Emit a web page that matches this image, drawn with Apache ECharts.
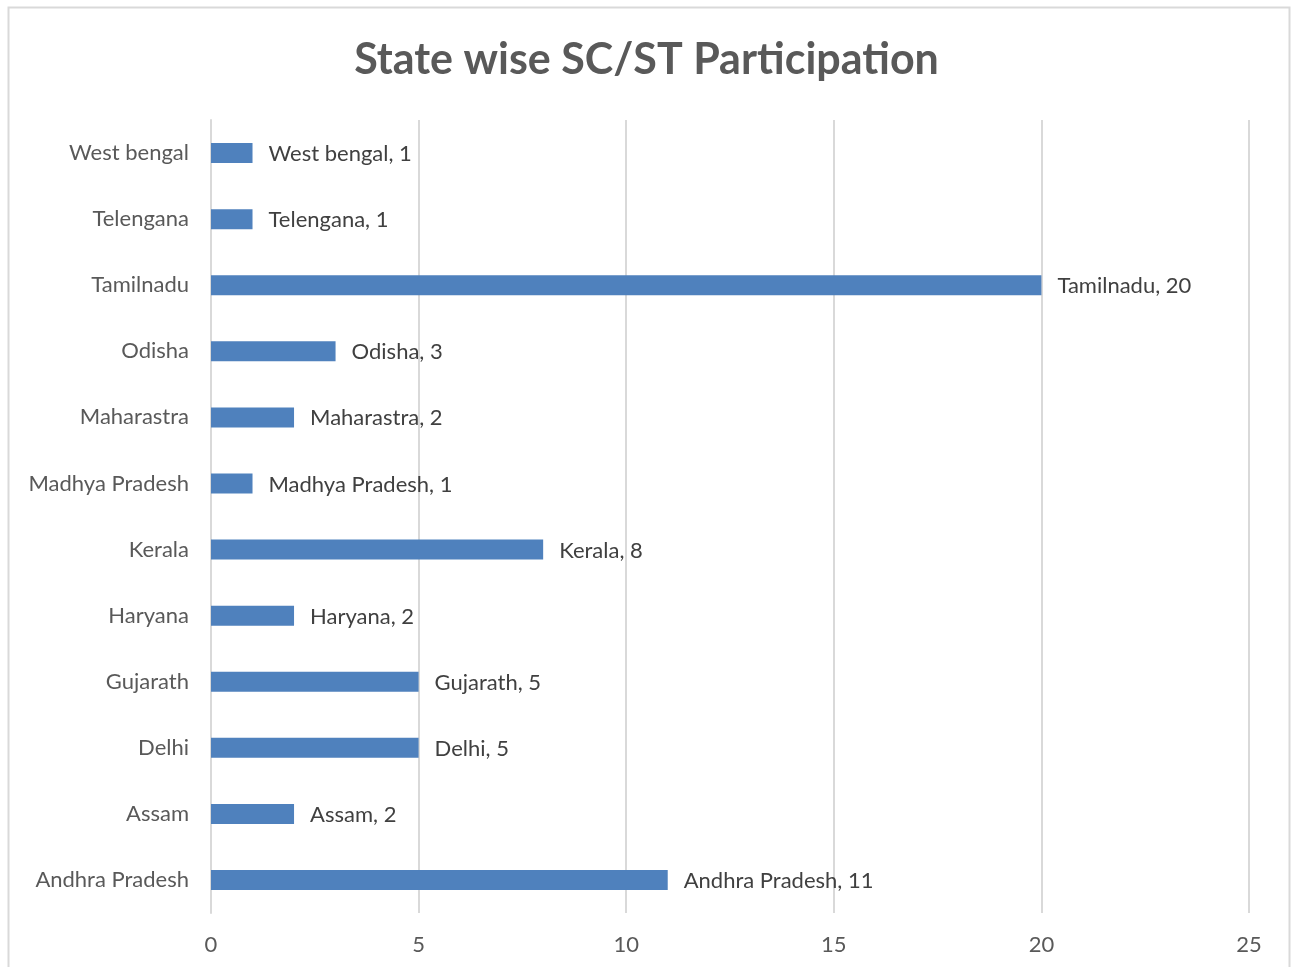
<!DOCTYPE html>
<html>
<head>
<meta charset="utf-8">
<script src="https://cdn.jsdelivr.net/npm/echarts@6/dist/echarts.min.js"></script>
<style>
  html, body { margin: 0; padding: 0; background: #fff; }
  #chart { width: 1293px; height: 967px; }
</style>
</head>
<body>
<div id="chart"></div>
<script>
// states, bottom to top as drawn
var states = ['Andhra Pradesh', 'Assam', 'Delhi', 'Gujarath', 'Haryana', 'Kerala',
              'Madhya Pradesh', 'Maharastra', 'Odisha', 'Tamilnadu', 'Telengana', 'West bengal'];
var participants = [11, 2, 5, 5, 2, 8, 1, 2, 3, 20, 1, 1];
var xTicks = [0, 5, 10, 15, 20, 25];

var font = 'Lato';
var myChart = echarts.init(document.getElementById('chart'));

var option = {
    backgroundColor: '#fff',
    animation: false,
    title: {
        text: 'State wise SC/ST Participation',
        left: 'center',
        top: 34,
        textStyle: { fontFamily: font, fontSize: 43, fontWeight: 'bold', color: '#595959' }
    },
    graphic: [{
        type: 'rect',
        shape: { x: 8.5, y: 7.5, width: 1281, height: 980 },
        style: { fill: 'none', stroke: '#d9d9d9', lineWidth: 2 },
        silent: true
    }],
    grid: { left: 211, right: 44, top: 120, bottom: 54, containLabel: false },
    xAxis: {
        type: 'value',
        min: xTicks[0],
        max: xTicks[xTicks.length - 1],
        interval: 5,
        axisLine: { show: false },
        axisTick: { show: false },
        splitLine: { lineStyle: { color: '#d9d9d9', width: 2 } },
        axisLabel: { fontFamily: font, fontSize: 22, color: '#595959', margin: 21 }
    },
    yAxis: {
        type: 'category',
        data: states,
        axisLine: { show: true, lineStyle: { color: '#d9d9d9', width: 2 } },
        axisTick: { show: false },
        axisLabel: { fontFamily: font, fontSize: 22, color: '#595959', margin: 22 }
    },
    series: [{
        type: 'bar',
        data: participants,
        barWidth: 20,
        itemStyle: { color: '#4f81bd' },
        label: {
            show: true,
            position: 'right',
            distance: 16,
            offset: [0, 1],
            fontFamily: font,
            fontSize: 22,
            color: '#404040',
            formatter: function (p) { return p.name + ', ' + p.value; }
        }
    }]
};

myChart.setOption(option);
</script>
</body>
</html>
